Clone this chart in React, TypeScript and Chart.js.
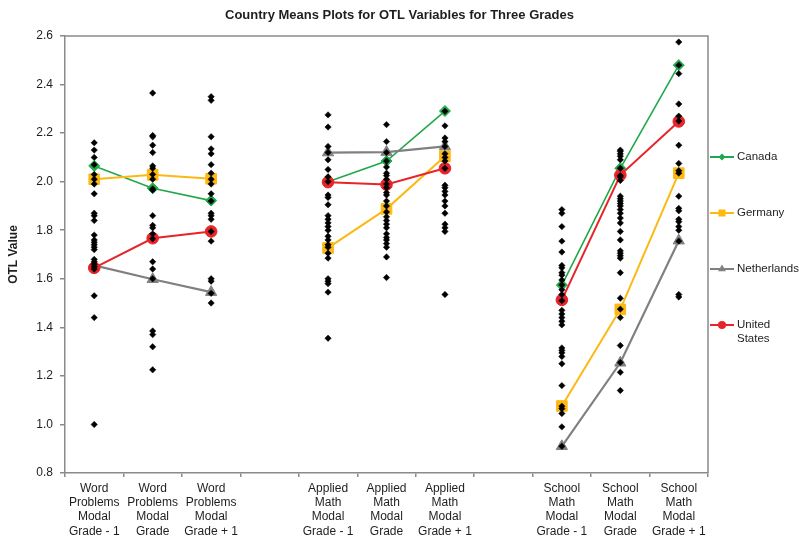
import { useEffect, useRef } from "react";
import { Chart, registerables } from "chart.js";

Chart.register(...registerables);

const FONT_FAMILY = '"Liberation Sans", Arial, Helvetica, sans-serif';
const AXIS_COLOR = "#8a8a8a";
const TEXT_COLOR = "#1e1e1e";

const chartTitle = "Country Means Plots for OTL Variables for Three Grades";
const yAxisTitle = "OTL Value";

// Category labels; "\n" splits a label into stacked tick lines.
// The two blank entries leave a gap between the three variable groups.
const categories = [
  "Word\nProblems\nModal\nGrade - 1",
  "Word\nProblems\nModal\nGrade",
  "Word\nProblems\nModal\nGrade + 1",
  " ",
  "Applied\nMath\nModal\nGrade - 1",
  "Applied\nMath\nModal\nGrade",
  "Applied\nMath\nModal\nGrade + 1",
  "  ",
  "School\nMath\nModal\nGrade - 1",
  "School\nMath\nModal\nGrade",
  "School\nMath\nModal\nGrade + 1",
];

const yMin = 0.8;
const yMax = 2.6;
const yStep = 0.2;

// Means of every participating country, one list per category
const wordProblemsGradeMinus1 = [
  2.16, 2.13, 2.1, 2.07, 2.03, 2.01, 1.99, 1.95, 1.87, 1.86, 1.84, 1.78, 1.76,
  1.75, 1.74, 1.73, 1.72, 1.68, 1.67, 1.66, 1.65, 1.64, 1.53, 1.44, 1.0,
];
const wordProblemsGrade = [
  2.365, 2.19, 2.185, 2.15, 2.12, 2.065, 2.055, 2.03, 2.01, 1.97, 1.965, 1.86,
  1.82, 1.81, 1.785, 1.765, 1.67, 1.64, 1.6, 1.385, 1.37, 1.32, 1.225,
];
const wordProblemsGradePlus1 = [
  2.35, 2.335, 2.185, 2.135, 2.115, 2.07, 2.035, 2.01, 1.99, 1.95, 1.92, 1.87,
  1.86, 1.845, 1.795, 1.755, 1.6, 1.59, 1.54, 1.5,
];
const appliedMathGradeMinus1 = [
  2.275, 2.225, 2.145, 2.12, 2.09, 2.05, 2.02, 2.0, 1.945, 1.935, 1.905, 1.86,
  1.845, 1.83, 1.815, 1.8, 1.775, 1.76, 1.74, 1.73, 1.705, 1.685, 1.6, 1.59,
  1.58, 1.545, 1.355,
];
const appliedMathGrade = [
  2.235, 2.165, 2.12, 2.085, 2.06, 2.035, 2.025, 2.01, 1.99, 1.975, 1.955,
  1.945, 1.92, 1.9, 1.875, 1.855, 1.84, 1.825, 1.81, 1.785, 1.77, 1.76, 1.745,
  1.73, 1.69, 1.605,
];
const appliedMathGradePlus1 = [
  2.29, 2.23, 2.18, 2.165, 2.145, 2.115, 2.1, 2.085, 2.055, 1.985, 1.975, 1.96,
  1.945, 1.92, 1.9, 1.87, 1.825, 1.81, 1.795, 1.535,
];
const schoolMathGradeMinus1 = [
  1.885, 1.87, 1.815, 1.755, 1.71, 1.655, 1.645, 1.625, 1.615, 1.595, 1.575,
  1.555, 1.535, 1.51, 1.47, 1.455, 1.44, 1.425, 1.41, 1.315, 1.305, 1.295,
  1.28, 1.25, 1.16, 1.075, 1.065, 1.045, 0.99, 0.91,
];
const schoolMathGrade = [
  2.13, 2.125, 2.115, 2.105, 2.09, 2.055, 2.025, 2.02, 2.005, 1.94, 1.93, 1.92,
  1.91, 1.9, 1.885, 1.87, 1.85, 1.83, 1.795, 1.76, 1.715, 1.705, 1.695, 1.685,
  1.625, 1.52, 1.475, 1.44, 1.325, 1.255, 1.215, 1.14,
];
const schoolMathGradePlus1 = [
  2.575, 2.48, 2.445, 2.32, 2.27, 2.25, 2.15, 2.075, 2.045, 2.035, 1.94, 1.89,
  1.88, 1.845, 1.835, 1.815, 1.8, 1.755, 1.535, 1.525,
];

const countryDots: number[][] = [
  wordProblemsGradeMinus1,
  wordProblemsGrade,
  wordProblemsGradePlus1,
  [],
  appliedMathGradeMinus1,
  appliedMathGrade,
  appliedMathGradePlus1,
  [],
  schoolMathGradeMinus1,
  schoolMathGrade,
  schoolMathGradePlus1,
];

// Highlighted country means (null = group gap)
const canadaMeans = [2.065, 1.973, 1.922, null, 2.0, 2.085, 2.291, null, 1.574, 2.055, 2.48];
const germanyMeans = [2.01, 2.028, 2.012, null, 1.727, 1.888, 2.105, null, 1.076, 1.474, 2.035];
const netherlandsMeans = [1.655, 1.598, 1.545, null, 2.12, 2.122, 2.145, null, 0.91, 1.254, 1.757];
const unitedStatesMeans = [1.645, 1.767, 1.795, null, 1.998, 1.988, 2.055, null, 1.513, 2.027, 2.248];

type SeriesSpec = {
  name: string[];
  values: (number | null)[];
  color: string;
  marker: "rectRot" | "rect" | "triangle" | "circle";
  radius: number;
  legendRadius: number;
  width: number;
  order: number;
};

const series: SeriesSpec[] = [
  { name: ["Canada"], values: canadaMeans, color: "#22a84a", marker: "rectRot", radius: 5.5, legendRadius: 3.5, width: 1.6, order: 4 },
  { name: ["Germany"], values: germanyMeans, color: "#fdb913", marker: "rect", radius: 7.5, legendRadius: 5, width: 2, order: 3 },
  { name: ["Netherlands"], values: netherlandsMeans, color: "#808080", marker: "triangle", radius: 6.5, legendRadius: 4.5, width: 2.2, order: 2 },
  { name: ["United", "States"], values: unitedStatesMeans, color: "#e8242b", marker: "circle", radius: 5.8, legendRadius: 4, width: 2, order: 1 },
];

function drawMarker(
  ctx: CanvasRenderingContext2D,
  style: string,
  x: number,
  y: number,
  r: number,
  color: string
) {
  ctx.fillStyle = color;
  ctx.beginPath();
  if (style === "rectRot") {
    ctx.moveTo(x, y - r);
    ctx.lineTo(x + r, y);
    ctx.lineTo(x, y + r);
    ctx.lineTo(x - r, y);
  } else if (style === "rect") {
    const s = r * Math.SQRT1_2;
    ctx.rect(x - s, y - s, 2 * s, 2 * s);
  } else if (style === "triangle") {
    for (let k = 0; k < 3; k++) {
      const a = (k * 2 * Math.PI) / 3;
      const px = x + Math.sin(a) * r;
      const py = y - Math.cos(a) * r;
      if (k === 0) ctx.moveTo(px, py);
      else ctx.lineTo(px, py);
    }
  } else {
    ctx.arc(x, y, r, 0, Math.PI * 2);
  }
  ctx.closePath();
  ctx.fill();
}

// Frame the plot area on its top and right edges as well
const framePlugin = {
  id: "plotFrame",
  beforeDatasetsDraw(chart: any) {
    const { ctx, chartArea: a } = chart;
    ctx.save();
    ctx.strokeStyle = AXIS_COLOR;
    ctx.lineWidth = 1.5;
    ctx.beginPath();
    ctx.moveTo(a.left, a.top);
    ctx.lineTo(a.right, a.top);
    ctx.lineTo(a.right, a.bottom);
    ctx.stroke();
    ctx.restore();
  },
};

// Title centred over the whole canvas
const titlePlugin = {
  id: "canvasTitle",
  afterDraw(chart: any) {
    const { ctx } = chart;
    ctx.save();
    ctx.font = `bold 13px ${FONT_FAMILY}`;
    ctx.fillStyle = TEXT_COLOR;
    ctx.textAlign = "center";
    ctx.textBaseline = "middle";
    ctx.fillText(chartTitle, chart.width / 2, 15);
    ctx.restore();
  },
};

// Line-and-marker legend in the right margin
const legendPlugin = {
  id: "seriesLegend",
  afterDraw(chart: any) {
    const { ctx, chartArea: a } = chart;
    const x0 = a.right + 2;
    const x1 = a.right + 26;
    const xm = (x0 + x1) / 2;
    const xt = a.right + 29;
    const firstY = a.top + 121;
    const gap = 56;
    const lineHeight = 14;
    ctx.save();
    ctx.font = `11.5px ${FONT_FAMILY}`;
    ctx.textBaseline = "middle";
    ctx.textAlign = "left";
    series.forEach((s, i) => {
      const y = firstY + i * gap;
      ctx.strokeStyle = s.color;
      ctx.lineWidth = 2;
      ctx.beginPath();
      ctx.moveTo(x0, y);
      ctx.lineTo(x1, y);
      ctx.stroke();
      drawMarker(ctx, s.marker, xm, y, s.legendRadius, s.color);
      ctx.fillStyle = TEXT_COLOR;
      s.name.forEach((line, j) => ctx.fillText(line, xt, y + j * lineHeight));
    });
    ctx.restore();
  },
};

export default function App() {
  const canvasRef = useRef<HTMLCanvasElement | null>(null);

  useEffect(() => {
    const canvas = canvasRef.current;
    if (!canvas) return;

    const dotData = categories.flatMap((c, i) =>
      countryDots[i].map((y) => ({ x: c, y }))
    );

    const chart = new Chart(canvas, {
      type: "line",
      data: {
        labels: categories,
        datasets: [
          {
            label: "All countries",
            data: dotData as any,
            showLine: false,
            pointStyle: "rectRot",
            pointRadius: 3.2,
            pointBackgroundColor: "#000000",
            pointBorderColor: "#000000",
            pointBorderWidth: 0.5,
            order: 0,
          },
          ...series.map((s) => ({
            label: s.name.join(" "),
            data: s.values,
            borderColor: s.color,
            backgroundColor: s.color,
            borderWidth: s.width,
            pointStyle: s.marker,
            pointRadius: s.radius,
            pointBackgroundColor: s.color,
            pointBorderColor: s.color,
            pointBorderWidth: 1,
            spanGaps: false,
            tension: 0,
            order: s.order,
          })),
        ] as any,
      },
      options: {
        responsive: false,
        animation: false,
        events: [],
        layout: { padding: { top: 36, right: 91, left: 0, bottom: 0 } },
        plugins: {
          legend: { display: false },
          title: { display: false },
          tooltip: { enabled: false },
        },
        scales: {
          x: {
            type: "category",
            offset: true,
            grid: {
              offset: true,
              drawOnChartArea: false,
              drawTicks: true,
              tickLength: 4,
              color: AXIS_COLOR,
              lineWidth: 1.5,
            },
            border: { display: true, color: AXIS_COLOR, width: 1.5 },
            ticks: {
              autoSkip: false,
              maxRotation: 0,
              minRotation: 0,
              padding: 4,
              color: TEXT_COLOR,
              font: { family: FONT_FAMILY, size: 12, lineHeight: 1.2 },
              callback: (_v: any, i: number) => categories[i].split("\n"),
            },
            afterFit: (s: any) => {
              s.height = 64;
            },
          },
          y: {
            min: yMin,
            max: yMax,
            grid: {
              drawOnChartArea: false,
              drawTicks: true,
              tickLength: 5,
              color: AXIS_COLOR,
              lineWidth: 1.5,
            },
            border: { display: true, color: AXIS_COLOR, width: 1.5 },
            ticks: {
              stepSize: yStep,
              padding: 7,
              color: TEXT_COLOR,
              font: { family: FONT_FAMILY, size: 12 },
              callback: (v: any) => Number(v).toFixed(1),
            },
            title: {
              display: true,
              text: yAxisTitle,
              color: TEXT_COLOR,
              font: { family: FONT_FAMILY, size: 12, weight: "bold" },
              padding: { top: 6, bottom: 4 },
            },
            afterFit: (s: any) => {
              s.width = 65;
            },
          },
        },
      },
      plugins: [framePlugin, titlePlugin, legendPlugin],
    });

    return () => chart.destroy();
  }, []);

  return (
    <div style={{ position: "fixed", left: 0, top: 0, width: 799, height: 537, background: "#ffffff" }}>
      <canvas ref={canvasRef} width={799} height={537} />
    </div>
  );
}
